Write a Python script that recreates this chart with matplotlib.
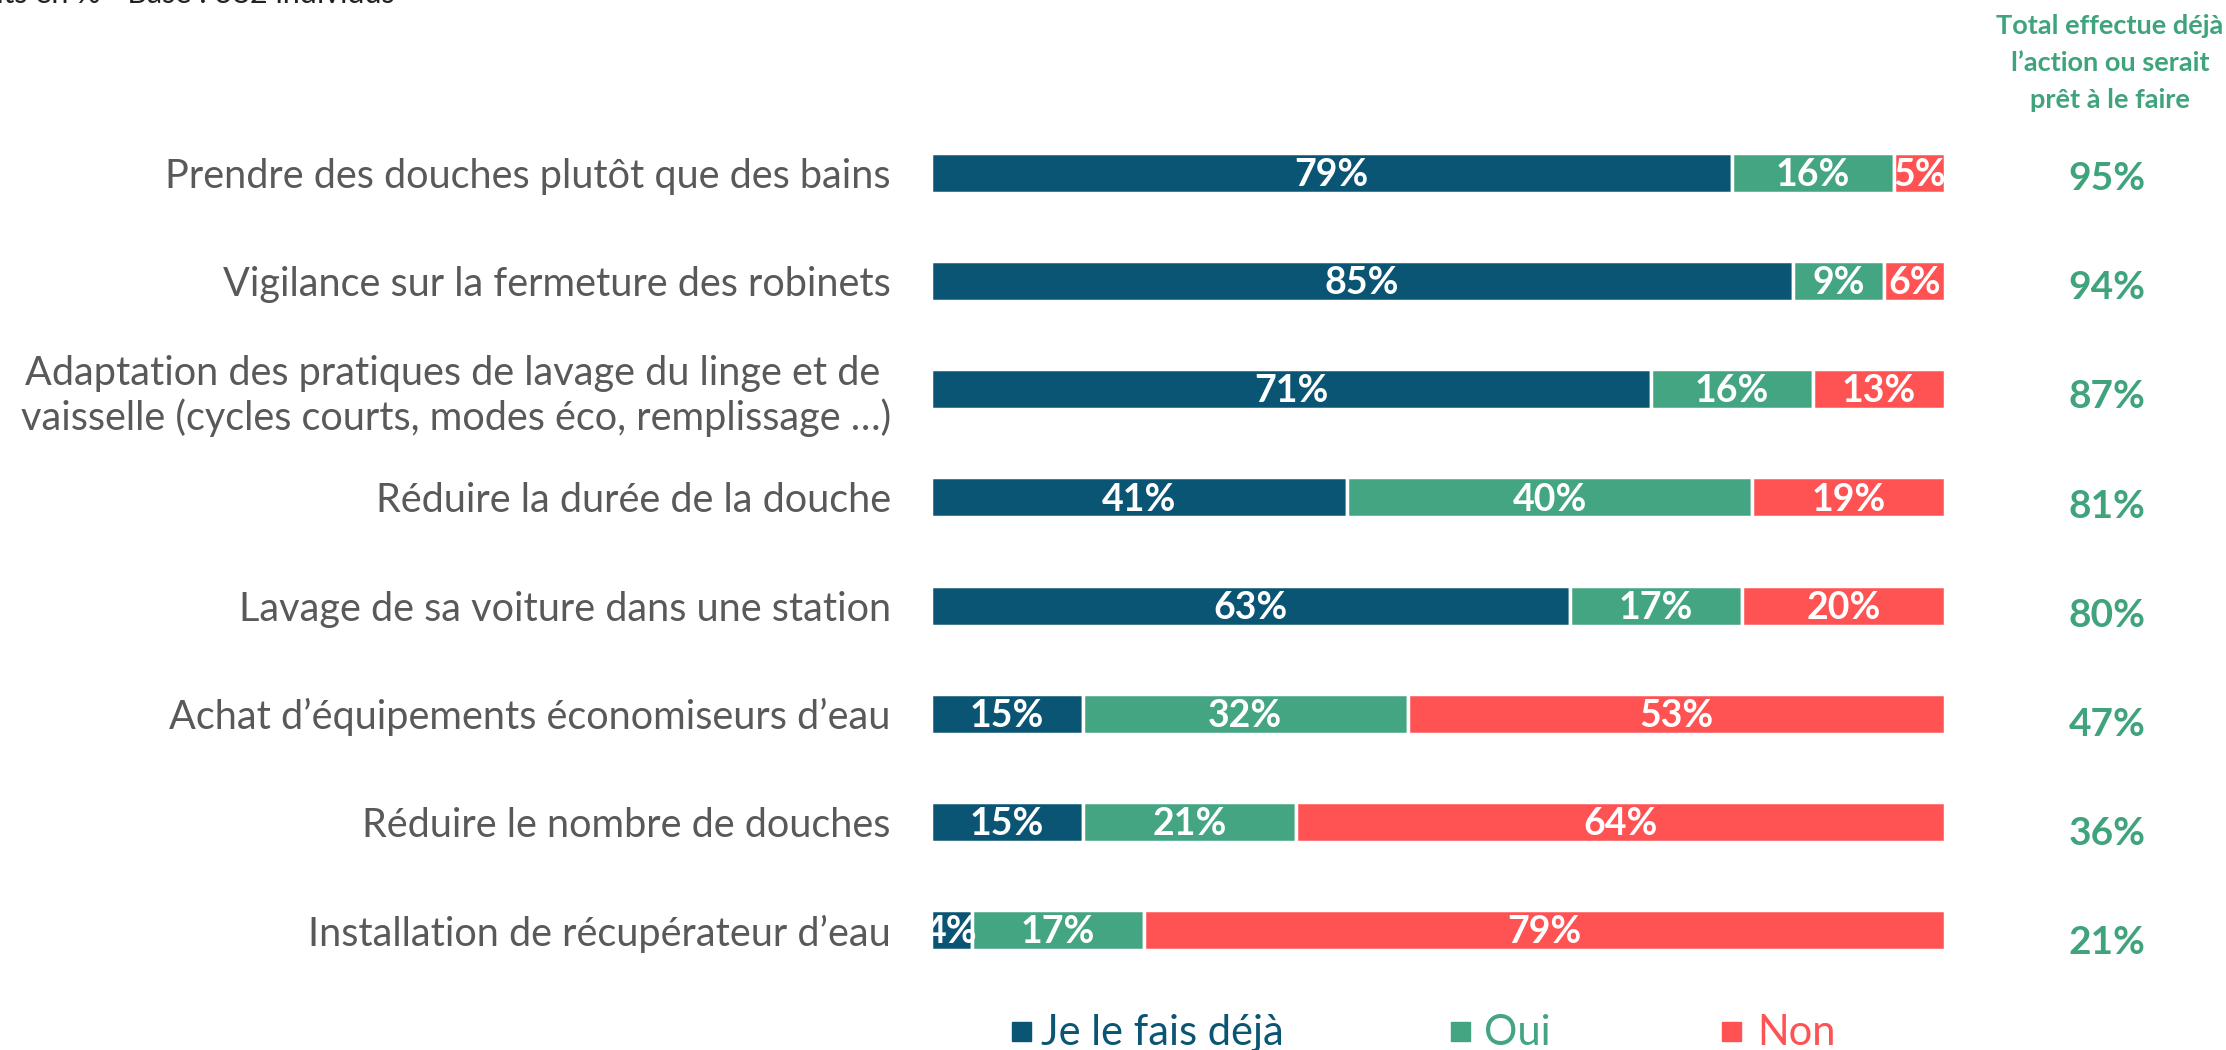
import matplotlib.pyplot as plt
from matplotlib.patches import Rectangle
from matplotlib.transforms import blended_transform_factory

plt.rcParams['font.family'] = ['Lato', 'DejaVu Sans']

# ---------------- data ----------------
categories = [
    "Prendre des douches plutôt que des bains",
    "Vigilance sur la fermeture des robinets",
    "Adaptation des pratiques de lavage du linge et de \nvaisselle (cycles courts, modes éco, remplissage …)",
    "Réduire la durée de la douche",
    "Lavage de sa voiture dans une station",
    "Achat d’équipements économiseurs d’eau",
    "Réduire le nombre de douches",
    "Installation de récupérateur d’eau",
]
deja = [79, 85, 71, 41, 63, 15, 15, 4]
oui = [16, 9, 16, 40, 17, 32, 21, 17]
non = [5, 6, 13, 19, 20, 53, 64, 79]
totals = [95, 94, 87, 81, 80, 47, 36, 21]

series_names = ["Je le fais déjà", "Oui", "Non"]
colors = ["#0B5574", "#43A582", "#FF5252"]
GREY = "#595959"
GREEN_TXT = "#3FA37C"
W, H = 2226, 1050

# ---------------- figure ----------------
fig = plt.figure(figsize=(W / 100, H / 100), dpi=100)
ax = fig.add_axes([931 / W, 1 - 984 / H, 1014 / W, 865 / H])

ypos = list(range(len(categories)))
left = [0] * len(categories)
for vals, col in zip([deja, oui, non], colors):
    ax.barh(ypos, vals, left=left, height=0.37, color=col,
            edgecolor="white", linewidth=2.5, zorder=2)
    for y, v, l in zip(ypos, vals, left):
        ax.text(l + v / 2, y + 0.02, f"{v}%", ha="center", va="center",
                color="white", fontsize=27, fontweight="bold", zorder=3)
    left = [l + v for l, v in zip(left, vals)]

ax.set_xlim(0, 100)
ax.set_ylim(len(categories) - 0.5, -0.5)
ax.set_yticks(ypos)
ax.set_yticklabels(categories, fontsize=28.5, color=GREY)
ax.tick_params(axis="y", length=0, pad=29)
ax.set_xticks([])
for s in ax.spines.values():
    s.set_visible(False)

# totals column
trans = blended_transform_factory(fig.transFigure, ax.transData)
for y, t in zip(ypos, totals):
    ax.text(2107 / W, y + 0.05 + 0.01 * y, f"{t}%", transform=trans,
            ha="center", va="center", color=GREEN_TXT,
            fontsize=28, fontweight="bold")

fig.text(2110 / W, 1 - 63 / H, "Total effectue déjà\nl’action ou serait\nprêt à le faire",
         ha="center", va="center", color=GREEN_TXT, fontsize=19.5,
         fontweight="bold", linespacing=1.65)

# cut-off note at top left
fig.text(395 / W, 1 - 3 / H, "Résultats en % - Base : 382 individus",
         ha="right", va="baseline", color="#222222", fontsize=22)

# legend
leg_sq = [1012, 1451, 1722]
leg_tx = [1041, 1484, 1757]
for sx, tx, name, col in zip(leg_sq, leg_tx, series_names, colors):
    fig.patches.append(Rectangle((sx / W, 1 - 1041 / H), 19 / W, 19 / H,
                                 transform=fig.transFigure, color=col))
    fig.text(tx / W, 5 / H, name, ha="left", va="baseline",
             color=col, fontsize=30)

fig.savefig("out.png", dpi=100)
